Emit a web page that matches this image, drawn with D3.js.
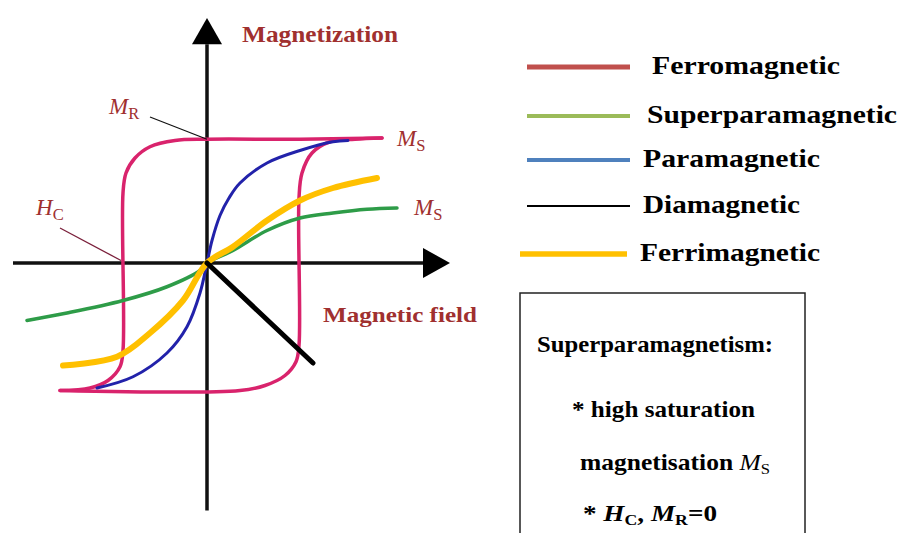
<!DOCTYPE html>
<html>
<head>
<meta charset="utf-8">
<script src="https://cdn.jsdelivr.net/npm/d3@7"></script>
<style>
  body { margin: 0; background: #fff; }
  svg { display: block; }
</style>
</head>
<body>
<svg width="899" height="533" font-family="'Liberation Serif', 'DejaVu Serif', serif" font-weight="bold"></svg>
<script>
// hysteresis curves, H (field) vs M (magnetization)
const ferroUpper = [[1.75, 1.0], [0.93, 0.99], [0, 0.99], [-0.32, 0.98], [-0.57, 0.93], [-0.72, 0.84],
  [-0.81, 0.72], [-0.84, 0.56], [-0.84, -0.70], [-0.87, -0.83], [-0.99, -0.94], [-1.17, -1.0], [-1.47, -1.02]];
const ferroLower = [[-1.47, -1.02], [0.33, -1.02], [0.58, -0.98], [0.78, -0.90], [0.89, -0.79], [0.92, -0.66],
  [0.92, 0.52], [0.95, 0.72], [1.05, 0.88], [1.23, 0.97], [1.48, 0.99], [1.75, 1.0]];
const para = [[-1.10, -1.0], [-0.74, -0.91], [-0.40, -0.72], [-0.20, -0.51], [-0.07, -0.24], [0, 0],
  [0.05, 0.18], [0.13, 0.38], [0.22, 0.52], [0.33, 0.64], [0.60, 0.80], [0.93, 0.90], [1.26, 0.97], [1.41, 0.98]];
const superpara = [[-1.80, -0.46], [-1.40, -0.40], [-0.84, -0.30], [-0.40, -0.19], [-0.07, -0.06], [0, 0],
  [0.26, 0.10], [0.60, 0.26], [0.93, 0.36], [1.26, 0.40], [1.60, 0.43], [1.90, 0.44]];
const ferri = [[-1.44, -0.82], [-0.90, -0.75], [-0.57, -0.56], [-0.24, -0.30], [0, 0],
  [0.26, 0.13], [0.60, 0.34], [0.93, 0.50], [1.26, 0.60], [1.70, 0.68]];
const dia = [[0, 0], [1.06, -0.80]];

const legendNames = ["Ferromagnetic", "Superparamagnetic", "Paramagnetic", "Diamagnetic", "Ferrimagnetic"];
const legendColors = ["#c0504d", "#9bbb59", "#4f81bd", "#000000", "#ffc000"];

const svg = d3.select("svg");
const labelColor = "#a0302f";

const x = d3.scaleLinear().domain([-2, 2.5]).range([7, 457]);
const y = d3.scaleLinear().domain([-2, 2]).range([513, 13]);

const line = d3.line()
  .x(d => x(d[0]))
  .y(d => y(d[1]))
  .curve(d3.curveCatmullRom.alpha(0.5));

// axes
const axes = svg.append("g");
axes.append("line")
  .attr("x1", x(-1.94)).attr("x2", x(2.2))
  .attr("y1", y(0)).attr("y2", y(0))
  .attr("stroke", "#111").attr("stroke-width", 3.5);
axes.append("line")
  .attr("x1", x(0)).attr("x2", x(0))
  .attr("y1", y(-1.98)).attr("y2", y(1.75))
  .attr("stroke", "#111").attr("stroke-width", 3.5);
axes.append("path")
  .attr("d", `M${x(2.43)},${y(0)} L${x(2.16)},${y(0) - 15} L${x(2.16)},${y(0) + 15} Z`)
  .attr("fill", "#000");
axes.append("path")
  .attr("d", `M${x(0)},${y(1.96)} L${x(0) - 15},${y(1.75)} L${x(0) + 15},${y(1.75)} Z`)
  .attr("fill", "#000");

// curves
const curves = [
  { d: ferroUpper, color: "#d9236c", w: 3.5 },
  { d: ferroLower, color: "#d9236c", w: 3.5 },
  { d: para, color: "#2222aa", w: 3 },
  { d: superpara, color: "#2e9c48", w: 3.5 },
  { d: ferri, color: "#ffc000", w: 6 },
  { d: dia, color: "#000", w: 5 }
];
svg.append("g").selectAll("path")
  .data(curves)
  .join("path")
  .attr("d", c => line(c.d))
  .attr("fill", "none")
  .attr("stroke", c => c.color)
  .attr("stroke-width", c => c.w)
  .attr("stroke-linecap", "round")
  .attr("stroke-linejoin", "round");

// leader lines for M_R and H_C
svg.append("line").attr("x1", 150).attr("y1", 117).attr("x2", x(0)).attr("y2", y(0.99))
  .attr("stroke", "#111").attr("stroke-width", 1.3);
svg.append("line").attr("x1", 60).attr("y1", 228).attr("x2", x(-0.86)).attr("y2", y(0.02))
  .attr("stroke", "#7a1f3a").attr("stroke-width", 1.3);

// labels with subscripts
function subLabel(g, px, py, main, sub, size, color) {
  const t = g.append("text").attr("x", px).attr("y", py)
    .attr("fill", color).attr("font-size", size).attr("font-weight", "normal");
  t.append("tspan").attr("font-style", "italic").text(main);
  t.append("tspan").attr("font-size", size * 0.72).attr("dy", size * 0.22).text(sub);
  return t;
}

const lab = svg.append("g");
lab.append("text").attr("x", 242).attr("y", 42).attr("fill", labelColor)
  .attr("font-size", 23).attr("textLength", 156).attr("lengthAdjust", "spacingAndGlyphs").text("Magnetization");
lab.append("text").attr("x", 323).attr("y", 322).attr("fill", labelColor)
  .attr("font-size", 22).attr("textLength", 154).attr("lengthAdjust", "spacingAndGlyphs").text("Magnetic field");
subLabel(lab, 109, 114, "M", "R", 23, labelColor);
subLabel(lab, 397, 146, "M", "S", 23, labelColor);
subLabel(lab, 414, 215, "M", "S", 23, labelColor);
subLabel(lab, 36, 215, "H", "C", 23, labelColor);

// legend
const legendY = [67, 116, 160, 206, 254];
const legendTextX = [652, 647, 643, 643, 640];
const legendTextW = [188, 250, 177, 157, 180];
const legendLineX = [[527, 630], [527, 630], [527, 630], [527, 630], [520, 627]];
const legendLineW = [5, 4, 4, 2.2, 5.5];
const leg = svg.append("g");
legendNames.forEach((name, i) => {
  leg.append("line")
    .attr("x1", legendLineX[i][0]).attr("x2", legendLineX[i][1])
    .attr("y1", legendY[i]).attr("y2", legendY[i])
    .attr("stroke", legendColors[i]).attr("stroke-width", legendLineW[i]);
  leg.append("text")
    .attr("x", legendTextX[i]).attr("y", legendY[i] + 7)
    .attr("font-size", 26).attr("fill", "#000")
    .attr("textLength", legendTextW[i]).attr("lengthAdjust", "spacingAndGlyphs")
    .text(name);
});

// note box
const box = svg.append("g");
box.append("rect").attr("x", 520).attr("y", 293).attr("width", 285).attr("height", 260)
  .attr("fill", "#fff").attr("stroke", "#222").attr("stroke-width", 1.5);
box.append("text").attr("x", 537).attr("y", 352).attr("font-size", 23)
  .attr("textLength", 236).attr("lengthAdjust", "spacingAndGlyphs").text("Superparamagnetism:");
box.append("text").attr("x", 572).attr("y", 417).attr("font-size", 23)
  .attr("textLength", 183).attr("lengthAdjust", "spacingAndGlyphs").text("* high saturation");
const t3 = box.append("text").attr("x", 580).attr("y", 470).attr("font-size", 23)
  .attr("textLength", 190).attr("lengthAdjust", "spacingAndGlyphs");
t3.append("tspan").text("magnetisation ");
t3.append("tspan").attr("font-style", "italic").attr("font-weight", "normal").text("M");
t3.append("tspan").attr("font-size", 15).attr("font-weight", "normal").attr("dy", 4).text("S");
const t4 = box.append("text").attr("x", 583).attr("y", 521).attr("font-size", 23)
  .attr("textLength", 134).attr("lengthAdjust", "spacingAndGlyphs");
t4.append("tspan").text("* ");
t4.append("tspan").attr("font-style", "italic").text("H");
t4.append("tspan").attr("font-size", 15).attr("dy", 4).text("C");
t4.append("tspan").attr("dy", -4).text(", ");
t4.append("tspan").attr("font-style", "italic").text("M");
t4.append("tspan").attr("font-size", 15).attr("dy", 4).text("R");
t4.append("tspan").attr("dy", -4).text("=0");
</script>
</body>
</html>
